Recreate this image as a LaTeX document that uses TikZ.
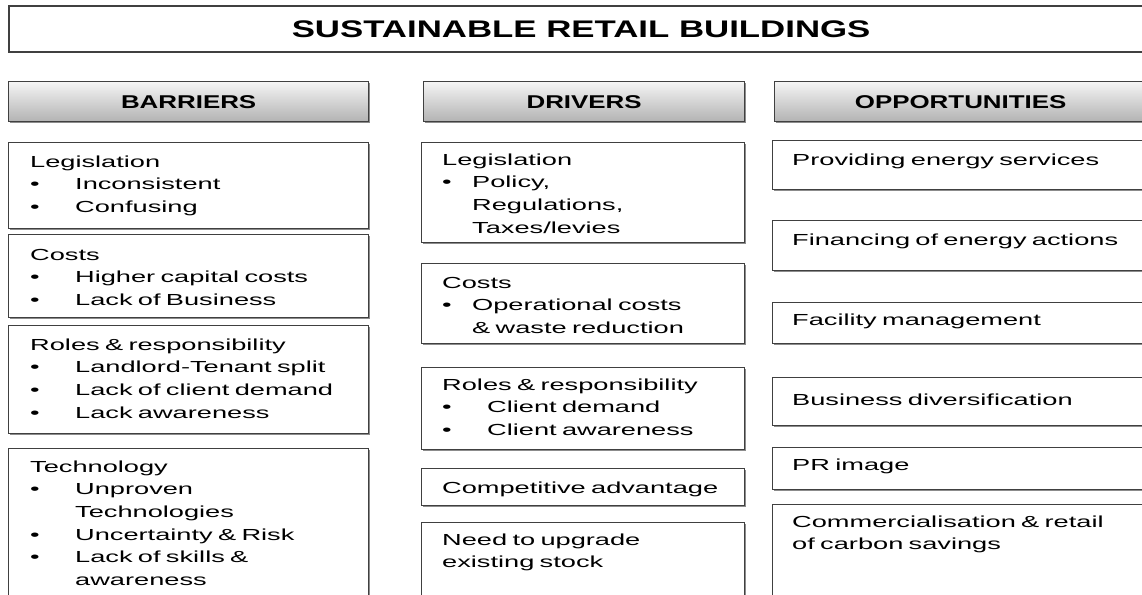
\documentclass[tikz,border=0pt]{standalone}
\usepackage{fontspec}
\setmainfont{Liberation Sans}
\newfontfamily\titlefont[FakeStretch=1.45]{Liberation Sans}
\newfontfamily\headfont[FakeStretch=1.4]{Liberation Sans}
\newfontfamily\bodyfont[FakeStretch=1.7]{Liberation Sans}
\usepackage{tikz}
\usetikzlibrary{shadows}

% bullet item and its continuation line
\newcommand{\itm}[2][45pt]{\makebox[#1][l]{\textbullet}#2}
\newcommand{\cnt}[2][45pt]{\hspace*{#1}#2}

\begin{document}
\begin{tikzpicture}[x=1pt,y=-1pt,
  panel/.style={draw=black!75, line width=1.3pt, fill=white, anchor=north west, inner sep=0pt,
    drop shadow={shadow xshift=1.3pt, shadow yshift=-1.3pt, fill=black!45, opacity=1}},
  header/.style={panel, top color=black!4, bottom color=black!30, minimum height=40,
    font=\headfont\bfseries\fontsize{18.5}{22}\selectfont},
  entry/.style={anchor=base west, inner sep=0pt, align=left, text width=#1,
    font=\bodyfont\fontsize{16}{22.7}\selectfont},
  entry/.default=330pt]

\useasboundingbox (0,0) rectangle (1142,594);

% Title
\node[panel, line width=2.2pt, minimum width=1144, minimum height=46,
  font=\titlefont\bfseries\fontsize{24}{28}\selectfont] (title) at (8,5) {SUSTAINABLE RETAIL BUILDINGS};

% Column headers
\node[header, minimum width=360] (barriers) at (8,81) {BARRIERS};
\node[header, minimum width=321] (drivers) at (423,81) {DRIVERS};
\node[header, minimum width=372] (opps) at (774,81) {OPPORTUNITIES};

% Barriers
\node[panel, minimum width=360, minimum height=86] (bar-leg) at (8,142) {};
\node[entry] (bar-leg-t) at (30,167) {Legislation\\ \itm{Inconsistent}\\ \itm{Confusing}};
\node[panel, minimum width=360, minimum height=83] (bar-cost) at (8,234) {};
\node[entry] (bar-cost-t) at (30,260) {Costs\\ \itm{Higher capital costs}\\ \itm{Lack of Business}};
\node[panel, minimum width=360, minimum height=108] (bar-role) at (8,325) {};
\node[entry] (bar-role-t) at (30,350) {Roles \& responsibility\\ \itm{Landlord-Tenant split}\\
  \itm{Lack of client demand}\\ \itm{Lack awareness}};
\node[panel, minimum width=360, minimum height=160] (bar-tech) at (8,448) {};
\node[entry] (bar-tech-t) at (30,472) {Technology\\ \itm{Unproven}\\ \cnt{Technologies}\\
  \itm{Uncertainty \& Risk}\\ \itm{Lack of skills \&}\\ \cnt{awareness}};

% Drivers
\node[panel, minimum width=323, minimum height=100] (drv-leg) at (421,142) {};
\node[entry=290pt] (drv-leg-t) at (442,165) {Legislation\\ \itm[30pt]{Policy,}\\
  \cnt[30pt]{Regulations,}\\ \cnt[30pt]{Taxes/levies}};
\node[panel, minimum width=323, minimum height=80] (drv-cost) at (421,263) {};
\node[entry=290pt] (drv-cost-t) at (442,288) {Costs\\ \itm[30pt]{Operational costs}\\
  \cnt[30pt]{\& waste reduction}};
\node[panel, minimum width=323, minimum height=82] (drv-role) at (421,367) {};
\node[entry=290pt] (drv-role-t) at (442,390) {Roles \& responsibility\\ \itm{Client demand}\\
  \itm{Client awareness}};
\node[panel, minimum width=323, minimum height=37] (drv-comp) at (421,468) {};
\node[entry=290pt] (drv-comp-t) at (442,493) {Competitive advantage};
\node[panel, minimum width=323, minimum height=90] (drv-stock) at (421,522) {};
\node[entry=290pt] (drv-stock-t) at (442,545) {Need to upgrade\\ existing stock};

% Opportunities
\node[panel, minimum width=380, minimum height=49] (opp-serv) at (772,140) {};
\node[entry=340pt] (opp-serv-t) at (792,165) {Providing energy services};
\node[panel, minimum width=380, minimum height=50] (opp-fin) at (772,220) {};
\node[entry=340pt] (opp-fin-t) at (792,245) {Financing of energy actions};
\node[panel, minimum width=380, minimum height=41] (opp-fac) at (772,302) {};
\node[entry=340pt] (opp-fac-t) at (792,325) {Facility management};
\node[panel, minimum width=380, minimum height=48] (opp-div) at (772,377) {};
\node[entry=340pt] (opp-div-t) at (792,405) {Business diversification};
\node[panel, minimum width=380, minimum height=42] (opp-pr) at (772,447) {};
\node[entry=340pt] (opp-pr-t) at (792,470) {PR image};
\node[panel, minimum width=380, minimum height=110] (opp-carb) at (772,504) {};
\node[entry=340pt] (opp-carb-t) at (792,527) {Commercialisation \& retail\\ of carbon savings};

\end{tikzpicture}
\end{document}
